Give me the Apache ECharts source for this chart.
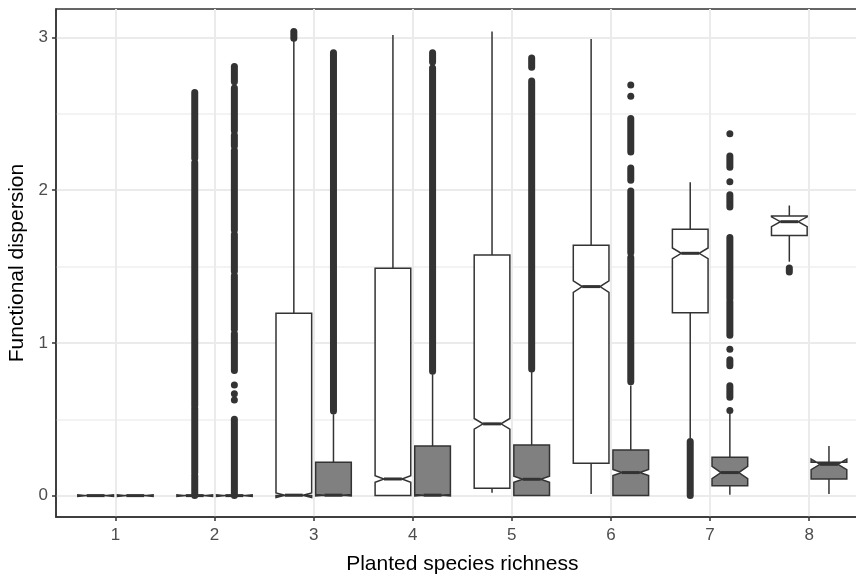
<!DOCTYPE html>
<html>
<head>
<meta charset="utf-8">
<script src="https://cdn.jsdelivr.net/npm/echarts@6/dist/echarts.min.js"></script>
<style>
  html, body { margin: 0; padding: 0; background: #fff; overflow: hidden; }
  #main { width: 856px; height: 576px; }
</style>
</head>
<body>
<div id="main"></div>
<script>
// planted species richness levels
var richness = [1, 2, 3, 4, 5, 6, 7, 8];
var yTicks = [0, 1, 2, 3];
var yMinor = [0.5, 1.5, 2.5];

// box stats per richness level: [whiskerLow, q1, median, q3, whiskerHigh, notchHalf]
var whiteBoxes = [
  [0, 0, 0, 0, 0, 0.005],
  [0, 0, 0, 0, 0, 0.005],
  [0, 0, 0.003, 1.194, 2.98, 0.015],
  [0, 0, 0.109, 1.489, 3.017, 0.022],
  [0.018, 0.048, 0.47, 1.576, 3.04, 0.035],
  [0.01, 0.212, 1.369, 1.64, 2.99, 0.038],
  [0.376, 1.198, 1.587, 1.745, 2.052, 0.035],
  [1.532, 1.703, 1.794, 1.832, 1.9, 0.032]
];
var greyBoxes = [
  [0, 0, 0, 0, 0, 0.005],
  [0, 0, 0, 0, 0, 0.005],
  [0, 0, 0.003, 0.219, 0.533, 0.005],
  [0, 0, 0.003, 0.325, 0.795, 0.005],
  [0, 0, 0.107, 0.332, 0.812, 0.02],
  [0, 0, 0.151, 0.299, 0.722, 0.02],
  [0.005, 0.064, 0.151, 0.251, 0.54, 0.04],
  [0.01, 0.109, 0.205, 0.219, 0.325, 0.035]
];

// dense outlier stretches: [richness, from, to]
var whiteOutlierRuns = [
  [2, 0, 0.13], [2, 0.15, 0.57], [2, 0.59, 2.18], [2, 2.21, 2.64],
  [3, 2.995, 3.04],
  [7, 0, 0.355],
  [8, 1.465, 1.49]
];
var greyOutlierRuns = [
  [2, 0, 0.5], [2, 0.82, 1.06], [2, 1.09, 1.44], [2, 1.47, 1.71], [2, 1.74, 2.26],
  [2, 2.29, 2.36], [2, 2.39, 2.67], [2, 2.71, 2.81],
  [3, 0.555, 2.9],
  [4, 0.815, 2.8], [4, 2.84, 2.9],
  [5, 0.83, 2.715], [5, 2.805, 2.866],
  [6, 0.745, 1.56], [6, 1.59, 1.995], [6, 2.065, 2.145], [6, 2.25, 2.47],
  [7, 0.645, 0.72], [7, 0.85, 0.89], [7, 1.05, 1.27], [7, 1.29, 1.69],
  [7, 1.89, 1.97], [7, 2.15, 2.225]
];
// single outliers: [richness, value]
var greyOutlierPoints = [
  [2, 0.627], [2, 0.667], [2, 0.725],
  [6, 2.615], [6, 2.69],
  [7, 0.557], [7, 0.959], [7, 2.056], [7, 2.37]
];

var dodge = 0.2;
var boxWidth = 0.36;
var ink = '#333333';

function boxData(boxes, off) {
  return boxes.map(function (b, i) {
    return [richness[i] + off].concat(b);
  });
}
function runData(runs, off) {
  return runs.map(function (r) { return [r[0] + off, r[1], r[2]]; });
}

function renderBox(params, api) {
  var x = api.value(0);
  var lo = api.value(1), q1 = api.value(2), med = api.value(3);
  var q3 = api.value(4), hi = api.value(5), nh = api.value(6);
  var cx = api.coord([x, med])[0];
  var hw = api.size([boxWidth, 0])[0] / 2;
  var yy = function (v) { return api.coord([x, v])[1]; };
  var yq1 = yy(q1), yq3 = yy(q3), ym = yy(med);
  var ynl = yy(med - nh), ynu = yy(med + nh), ylo = yy(lo), yhi = yy(hi);
  var inset = hw / 2;
  var fill = api.style().fill;
  return {
    type: 'group',
    children: [
      { type: 'line', shape: { x1: cx, y1: yq3, x2: cx, y2: yhi }, style: { stroke: ink, lineWidth: 1.5 } },
      { type: 'line', shape: { x1: cx, y1: yq1, x2: cx, y2: ylo }, style: { stroke: ink, lineWidth: 1.5 } },
      {
        type: 'polygon',
        shape: {
          points: [
            [cx - hw, yq3], [cx - hw, ynu], [cx - hw + inset, ym], [cx - hw, ynl], [cx - hw, yq1],
            [cx + hw, yq1], [cx + hw, ynl], [cx + hw - inset, ym], [cx + hw, ynu], [cx + hw, yq3]
          ]
        },
        style: { fill: fill, stroke: ink, lineWidth: 1.5 }
      },
      { type: 'line', shape: { x1: cx - hw + inset, y1: ym, x2: cx + hw - inset, y2: ym }, style: { stroke: ink, lineWidth: 3 } }
    ]
  };
}

function renderRun(params, api) {
  var a = api.coord([api.value(0), api.value(1)]);
  var b = api.coord([api.value(0), api.value(2)]);
  return {
    type: 'line',
    shape: { x1: a[0], y1: a[1], x2: b[0], y2: b[1] },
    style: { stroke: ink, lineWidth: 7, lineCap: 'round' }
  };
}

var myChart = echarts.init(document.getElementById('main'));
var option = {
  animation: false,
  backgroundColor: '#fff',
  grid: {
    left: 56, width: 812.6, top: 9, bottom: 59,
    outerBoundsMode: 'none',
    show: true, borderColor: ink, borderWidth: 1.5, backgroundColor: 'transparent'
  },
  xAxis: {
    type: 'value', min: 0.4, max: 8.6,
    name: 'Planted species richness',
    nameLocation: 'middle', nameGap: 37,
    nameTextStyle: { color: '#000', fontSize: 21, fontFamily: 'Liberation Sans' },
    axisLine: { onZero: false, lineStyle: { color: ink, width: 1.5 } },
    axisTick: { length: 4, customValues: richness, lineStyle: { color: ink, width: 1.5 } },
    axisLabel: {
      customValues: richness, margin: 10, color: '#4D4D4D', fontSize: 17,
      fontFamily: 'Liberation Sans'
    },
    splitLine: { show: true, lineStyle: { color: '#EBEBEB', width: 2 } }
  },
  yAxis: [
    {
      type: 'value', min: -0.14, max: 3.187,
      name: 'Functional dispersion',
      nameLocation: 'middle', nameGap: 26, nameRotate: 90,
      nameTextStyle: { color: '#000', fontSize: 21, fontFamily: 'Liberation Sans' },
      axisLine: { show: true, lineStyle: { color: ink, width: 1.5 } },
      axisTick: { show: true, length: 4, customValues: yTicks, lineStyle: { color: ink, width: 1.5 } },
      axisLabel: {
        customValues: yTicks, margin: 8, color: '#4D4D4D', fontSize: 17,
        fontFamily: 'Liberation Sans'
      },
      splitLine: { show: true, lineStyle: { color: '#EBEBEB', width: 2 } }
    },
    {
      type: 'value', min: -0.14, max: 3.187, position: 'left',
      axisLine: { show: false },
      axisTick: { show: false, customValues: yMinor },
      axisLabel: { show: false, customValues: yMinor },
      splitLine: { show: true, lineStyle: { color: '#EFEFEF', width: 1.5 } }
    }
  ],
  series: [
    {
      type: 'custom', name: 'white', renderItem: renderBox,
      itemStyle: { color: '#FFFFFF' },
      encode: { x: 0, y: [1, 2, 3, 4, 5] },
      data: boxData(whiteBoxes, -dodge), z: 3
    },
    {
      type: 'custom', name: 'grey', renderItem: renderBox,
      itemStyle: { color: '#808080' },
      encode: { x: 0, y: [1, 2, 3, 4, 5] },
      data: boxData(greyBoxes, dodge), z: 3
    },
    {
      type: 'custom', renderItem: renderRun,
      encode: { x: 0, y: [1, 2] },
      data: runData(whiteOutlierRuns, -dodge).concat(runData(greyOutlierRuns, dodge)), z: 4
    },
    {
      type: 'scatter', symbolSize: 7, itemStyle: { color: ink, opacity: 1 },
      data: greyOutlierPoints.map(function (p) { return [p[0] + dodge, p[1]]; }),
      z: 4
    }
  ]
};
myChart.setOption(option);
</script>
</body>
</html>
